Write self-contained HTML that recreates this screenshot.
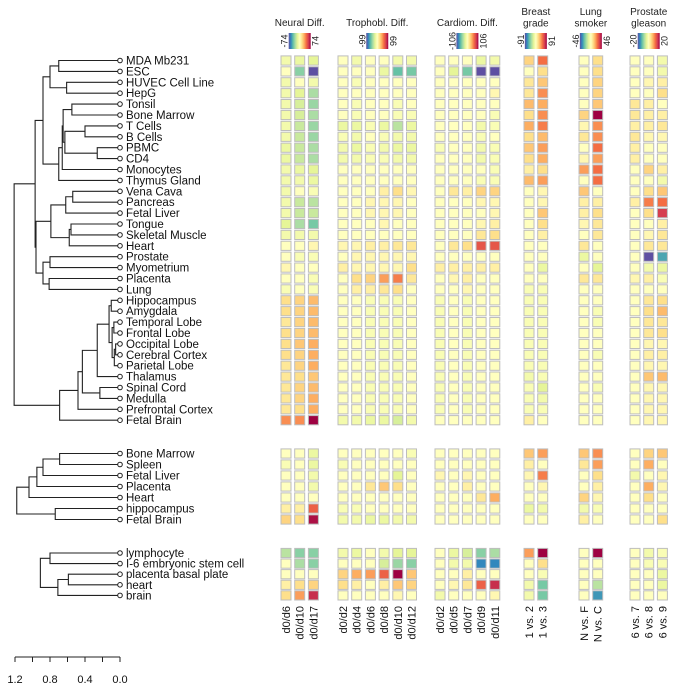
<!DOCTYPE html>
<html><head><meta charset="utf-8"><style>
html,body{margin:0;padding:0;background:#fff;}
svg{display:block;font-family:"Liberation Sans",sans-serif;}
</style></head><body>
<svg id="chart" width="675" height="690" viewBox="0 0 675 690" xmlns="http://www.w3.org/2000/svg"></svg>
<script>
// ---------- data ----------
const labels1 = ["MDA Mb231","ESC","HUVEC Cell Line","HepG","Tonsil","Bone Marrow","T Cells","B Cells","PBMC","CD4","Monocytes","Thymus Gland","Vena Cava","Pancreas","Fetal Liver","Tongue","Skeletal Muscle","Heart","Prostate","Myometrium","Placenta","Lung","Hippocampus","Amygdala","Temporal Lobe","Frontal Lobe","Occipital Lobe","Cerebral Cortex","Parietal Lobe","Thalamus","Spinal Cord","Medulla","Prefrontal Cortex","Fetal Brain"];
const labels2 = ["Bone Marrow","Spleen","Fetal Liver","Placenta","Heart","hippocampus","Fetal Brain"];
const labels3 = ["lymphocyte","I-6 embryonic stem cell","placenta basal plate","heart","brain"];
const panelTitles = [["Neural Diff."],["Trophobl. Diff."],["Cardiom. Diff."],["Breast","grade"],["Lung","smoker"],["Prostate","gleason"]];
const panelRange = [74,99,106,91,46,20];
const colLabels = [["d0/d6","d0/d10","d0/d17"],["d0/d2","d0/d4","d0/d6","d0/d8","d0/d10","d0/d12"],["d0/d2","d0/d5","d0/d7","d0/d9","d0/d11"],["1 vs. 2","1 vs. 3"],["N vs. F","N vs. C"],["6 vs. 7","6 vs. 8","6 vs. 9"]];
const scaleTicks = [1.2,1.0,0.8,0.6,0.4,0.2,0.0];
const scaleTickLabels = ["1.2","0.8","0.4","0.0"];
// dendrograms: leaf index or [height, left, right]
const tree1 = [1.21,
  [0.97,[0.88,[0.80,[0.70,0,1],[0.61,2,3]],[0.70,[0.66,[0.65,[0.55,4,5],[0.63,[0.40,6,7],[0.26,8,9]]],10],11]],
        [0.96,[0.79,[0.62,[0.54,12,13],14],[0.58,[0.56,15,16],17]],[0.88,[0.80,18,19],[0.81,20,21]]]],
  [0.69,[0.48,[0.43,[0.26,[0.125,[0.10,22,23],[0.09,[0.07,24,25],[0.065,[0.05,26,27],28]]],29],[0.23,30,31]],32],33]];
const tree2 = [1.18,[1.04,[0.95,[0.88,[0.69,0,1],2],3],4],[0.74,5,6]];
const tree3 = [0.91,[0.80,0,1],[0.71,[0.59,2,3],4]];
// heatmap values (normalised -1..1), one array per group & panel
const g1neural = [[-0.1,-0.15,-0.2],[0,-0.5,-1],[-0.1,0,-0.1],[-0.1,-0.2,-0.4],[-0.1,-0.25,-0.45],[-0.1,-0.25,-0.4],[-0.1,-0.3,-0.45],[-0.1,-0.3,-0.45],[-0.15,-0.3,-0.4],[-0.15,-0.3,-0.4],[-0.1,-0.15,-0.2],[-0.1,-0.1,-0.15],[-0.1,0,-0.05],[-0.1,-0.3,-0.35],[-0.1,-0.3,-0.3],[-0.2,-0.4,-0.55],[-0.1,-0.1,-0.1],[0,0,0.05],[0,-0.05,-0.05],[0.05,0,0],[0,0,-0.05],[-0.05,0,-0.05],[0.2,0.25,0.35],[0.2,0.25,0.35],[0.15,0.25,0.35],[0.2,0.25,0.35],[0.2,0.3,0.4],[0.2,0.25,0.4],[0.15,0.25,0.4],[0.15,0.2,0.3],[0.15,0.25,0.35],[0.15,0.25,0.4],[0.15,0.2,0.4],[0.5,0.5,1.0]];
const g1troph = [[0,-0.1,0,0,-0.1,-0.1],[0,0,0,-0.15,-0.6,-0.55],[0,-0.05,0,0,0,0],[0,0,0,0,0,0],[0,-0.05,0,0,-0.05,0],[0,-0.05,0,0,-0.05,-0.05],[-0.15,-0.15,-0.05,-0.15,-0.35,-0.15],[-0.05,-0.1,0,-0.05,-0.1,-0.1],[-0.1,-0.15,-0.05,-0.1,-0.15,-0.15],[-0.1,-0.1,-0.05,-0.05,-0.1,-0.1],[0,0,0,0,0,0],[0,0,0,0,0,0],[0,0,0,0.1,0.2,0.05],[0,0,0.05,0.05,0.05,0],[0,0,0.05,0.05,0.05,0],[0,0,0,0.05,0,0],[0,0,0,0,0,0],[0.05,0.05,0.1,0.1,0.15,0.15],[0,0.05,0.05,0.05,0.05,0.05],[0.1,0.05,0.05,0.05,0.05,0.2],[0,0.2,0.25,0.45,0.55,0.15],[0,0.1,0.1,0.15,0.2,0],[0,0,-0.05,-0.05,-0.05,0],[0,0,-0.05,-0.05,-0.05,0],[0,0,-0.05,-0.05,-0.05,0],[0,0,-0.05,-0.05,-0.05,0],[0,0,-0.05,-0.05,-0.05,0],[0,0,-0.05,-0.05,-0.05,0],[0,0,-0.05,-0.05,-0.05,0],[0,0,-0.05,-0.05,-0.05,0],[0,0,-0.05,-0.05,-0.05,0],[0,0,-0.05,-0.05,-0.05,0],[0,0,-0.05,-0.05,-0.05,0],[-0.1,-0.1,-0.15,-0.15,-0.25,-0.1]];
const g1card = [[0,0,0,-0.15,-0.1],[0,-0.2,-0.55,-1,-1],[0,0,0,0,0],[0,0,0,0,0.05],[0,0,0,0,0],[0,0,0,0,-0.05],[0,0,0,-0.1,-0.05],[0,0,0,-0.05,0],[-0.05,0,0,-0.1,-0.05],[0,0,0,-0.1,-0.05],[0,0,0,0,-0.05],[0,0,0,-0.05,-0.05],[0,0.15,0.1,0.25,0.25],[0,0,0,0.05,0.05],[0,0,0,0,0.05],[0,0,0,0.05,0.1],[0,0,0,0.15,0.2],[0,0.15,0.2,0.7,0.7],[0,0,0,0,0],[0.1,0.1,0.1,0.1,0.1],[0,0.05,0.1,0,0],[0,0,0.05,0,0],[-0.05,0,-0.05,0,0],[-0.05,0,-0.05,0,0],[-0.05,0,-0.05,0,0],[-0.05,0,-0.05,0,0],[-0.05,0,-0.05,0,0],[-0.05,0,-0.05,0,0],[-0.05,0,-0.05,0,0],[-0.05,0,-0.05,0,0],[-0.05,0,-0.05,0,0],[-0.05,0,-0.05,0,0],[-0.05,0,-0.05,0,0],[0,0,0,0,0]];
const g1breast = [[0.25,0.6],[0,0.2],[0.15,0.3],[0.15,0.5],[0.35,0.4],[0.2,0.5],[0.4,0.55],[0.2,0.35],[0.3,0.45],[0.2,0.4],[0.1,0.2],[0.35,0.45],[0,0.05],[0,0.05],[0,0.3],[0,0.2],[0,0.1],[0,0],[0,0],[0,-0.15],[0,0],[-0.05,-0.05],[-0.05,-0.05],[-0.05,-0.05],[-0.05,-0.05],[-0.05,-0.05],[-0.05,-0.05],[-0.05,-0.05],[-0.05,-0.05],[-0.1,-0.05],[-0.05,-0.2],[-0.05,-0.1],[-0.05,-0.05],[0.1,0]];
const g1lung = [[0,0.2],[0,0.2],[0,0.25],[0,0.25],[0,0.3],[0.25,1.0],[0.05,0.5],[0.15,0.5],[0,0.6],[0.05,0.45],[0.45,0.6],[0,0.6],[0.3,0],[0.1,0.1],[0.1,0.2],[0.05,0.15],[0,0.15],[0.15,0],[-0.15,0],[0,-0.2],[0.15,0.15],[0,0],[0,0],[0,-0.05],[0,-0.05],[0,0],[0,0],[0,-0.05],[0,0],[0,0],[0,-0.05],[0,0],[0,0],[0,0]];
const g1prost = [[0,0,-0.1],[0,0,-0.1],[0,0.05,0.1],[0,0,0.2],[0.15,0.1,0],[0.15,0.1,0.1],[0.1,0.1,0.15],[0.15,0.05,0.05],[0.1,0,0],[0.1,0,0],[0,0.25,0.1],[0,0,-0.1],[0,0.2,0.3],[0.1,0.55,0.6],[0,0.2,0.8],[0,0,0.1],[0,0.05,0.15],[0,0.15,0.15],[0,-1,-0.7],[0,-0.1,-0.15],[0.05,0.1,-0.05],[0,0,0],[0,0.15,0.2],[0,0.2,0.35],[0,0.15,0.15],[0,0.15,0.2],[0,0.05,0.05],[0,0.1,0.1],[0,0.05,0.05],[0,0.3,0.35],[0,0.05,0.05],[0,0.05,0.05],[0,0.05,0.05],[0,0.05,0.05]];
const g2neural = [[0,0,-0.15],[-0.05,0,-0.15],[0,0,-0.1],[0,0,-0.1],[0,0,0],[0.1,0.1,0.65],[0.25,0.2,0.95]];
const g2troph = [[0,0,0,0,0,-0.05],[-0.05,0,0,0,0,0],[0,0,0,0,-0.2,0],[0,0,0.15,0.3,0.2,0],[0,0,0,0,0,0],[-0.05,-0.05,0,0,0,0],[-0.1,-0.1,-0.15,-0.15,-0.1,-0.1]];
const g2card = [[0,0,0,0,0],[0,0,0,0,0],[0.05,0,0.05,0,0],[0,0,0.1,0,0],[0,0,0,0.15,0.4],[0,0,0,0,0],[0,0,0,0,0]];
const g2breast = [[0.3,0.45],[0.1,0],[0.05,0.55],[0,0.05],[0,0],[-0.15,-0.1],[0,0]];
const g2lung = [[0.3,0.5],[0.15,0.45],[0,0.2],[0,0.1],[0.25,0.05],[-0.1,-0.05],[0.1,0]];
const g2prost = [[0,0.25,0.3],[0,0.4,0],[-0.1,0,0.05],[0,0.4,0.05],[0,0.2,0],[0,0,0],[0,0,0.2]];
const g3neural = [[-0.35,-0.5,-0.5],[0,-0.4,-0.5],[0,0,0],[0.1,0.2,0.25],[0.2,0.45,0.85]];
const g3troph = [[-0.1,-0.15,0,-0.1,-0.2,-0.2],[0,0,0,-0.25,-0.45,-0.5],[0.25,0.4,0.45,0.65,1.0,0.3],[0.2,0.1,0,0.1,0.3,0.25],[0,0,0,0,0.05,0]];
const g3card = [[0,-0.15,-0.25,-0.5,-0.4],[0,-0.1,-0.1,-0.8,-0.8],[0,0,0.1,0,0],[0,0.05,0.15,0.65,0.85],[-0.1,0,0,0,0.05]];
const g3breast = [[0.45,1.0],[0,0.2],[0,-0.05],[-0.1,-0.55],[-0.1,-0.55]];
const g3lung = [[0,1.0],[0,0],[0,0],[0,-0.35],[0,-0.75]];
const g3prost = [[0,-0.1,-0.05],[0,-0.05,-0.05],[0,0,-0.15],[0,0,-0.15],[0,0,0]];

// ---------- layout ----------
const NS="http://www.w3.org/2000/svg";
const svg=document.getElementById('chart');
function mk(tag,attrs,parent){const e=document.createElementNS(NS,tag);for(const k in attrs)e.setAttribute(k,attrs[k]);(parent||svg).appendChild(e);return e;}
const stops=[[-1,[94,79,162]],[-0.8,[50,136,189]],[-0.6,[102,194,165]],[-0.4,[171,221,164]],[-0.2,[230,245,152]],[0,[255,255,191]],[0.2,[254,224,139]],[0.4,[253,174,97]],[0.6,[244,109,67]],[0.8,[213,62,79]],[1,[158,1,66]]];
function color(v){v=Math.max(-1,Math.min(1,v));for(let i=0;i<stops.length-1;i++){const a=stops[i],b=stops[i+1];if(v<=b[0]){const t=(v-a[0])/(b[0]-a[0]);const c=a[1].map((x,j)=>Math.round(x+(b[1][j]-x)*t));return `rgb(${c})`;}}return 'rgb(158,1,66)';}
const hx = h => 120 - h*87.5;
const panelX=[281,338,435,524,579,630];
const pitchX=13.7, cellW=10;
const groups=[
  {labels:labels1,tree:tree1,y0:60.5,py:10.9,data:[g1neural,g1troph,g1card,g1breast,g1lung,g1prost]},
  {labels:labels2,tree:tree2,y0:453.5,py:11,data:[g2neural,g2troph,g2card,g2breast,g2lung,g2prost]},
  {labels:labels3,tree:tree3,y0:553,py:10.6,data:[g3neural,g3troph,g3card,g3breast,g3lung,g3prost]}
];
const rowY=(g,i)=>g.y0+g.py*i;

// gradient def
const defs=mk('defs',{});
const lg=mk('linearGradient',{id:'spec',x1:'0',x2:'1',y1:'0',y2:'0'},defs);
stops.forEach(s=>mk('stop',{offset:((s[0]+1)/2),'stop-color':color(s[0])},lg));

// headers
panelTitles.forEach((t,p)=>{
  const n=colLabels[p].length;
  const cx=panelX[p]+((n-1)*pitchX+cellW)/2;
  const grp=mk('g',{});
  
  
  t.forEach((line,k)=>{
    const y = t.length===1?26:(15+k*11.5);
    const tx=mk('text',{x:cx,y:y,'text-anchor':'middle','font-size':'10',fill:'#222'},grp);
    tx.textContent=line;
  });
  const bx=cx-11, bw=22;
  const r=mk('rect',{x:bx,y:33,width:bw,height:16,fill:'url(#spec)'},grp);
  
  
  const t1=mk('text',{transform:`translate(${bx-1},41) rotate(-90)`,'text-anchor':'middle','font-size':'9',fill:'#222'},grp);
  t1.textContent='-'+panelRange[p];
  const t2=mk('text',{transform:`translate(${bx+bw+8},41) rotate(-90)`,'text-anchor':'middle','font-size':'9',fill:'#222'},grp);
  t2.textContent=String(panelRange[p]);
});

// heatmap cells
groups.forEach((g,gi)=>{
  g.data.forEach((panel,p)=>{
    panel.forEach((row,i)=>{
      row.forEach((v,c)=>{
        const r=mk('rect',{x:panelX[p]+c*pitchX,y:rowY(g,i)-4.6,width:cellW,height:9.2,fill:color(v),stroke:'#bdbdbd','stroke-width':'1'});
        
        
      });
    });
  });
  // leaf labels and circles
  g.labels.forEach((l,i)=>{
    const y=rowY(g,i);
    const c=mk('circle',{cx:120,cy:y,r:2.3,fill:'none',stroke:'#222','stroke-width':'1'});
    
    
    const t=mk('text',{x:126,y:y+4,'font-size':'11.5',fill:'#111'});
    
    
    t.textContent=l;
  });
  // dendrogram
  let d='';
  function walk(n){
    if(typeof n==='number') return {x:118,y:rowY(g,n)};
    const a=walk(n[1]), b=walk(n[2]); const x=hx(n[0]);
    d+=`M${a.x},${a.y}H${x}V${b.y}H${b.x}`;
    return {x:x,y:(a.y+b.y)/2};
  }
  const root=walk(g.tree);
  const path=mk('path',{d:d,fill:'none',stroke:'#222','stroke-width':'1.1'});
  
  
});

// column labels
colLabels.forEach((cols,p)=>{
  cols.forEach((l,c)=>{
    const x=panelX[p]+c*pitchX+cellW/2+4;
    const t=mk('text',{transform:`translate(${x},606) rotate(-90)`,'text-anchor':'end','font-size':'11',fill:'#111'});
    
    
    t.textContent=l;
  });
});

// scale axis
const ax=mk('g',{});


mk('line',{x1:hx(scaleTicks[0]),x2:hx(scaleTicks[scaleTicks.length-1]),y1:657,y2:657,stroke:'#222'},ax);
scaleTicks.forEach(v=>mk('line',{x1:hx(v),x2:hx(v),y1:657,y2:662,stroke:'#222'},ax));
scaleTickLabels.forEach(s=>{const t=mk('text',{x:hx(parseFloat(s)),y:683,'text-anchor':'middle','font-size':'11',fill:'#111'},ax);t.textContent=s;});
</script>
</body></html>
